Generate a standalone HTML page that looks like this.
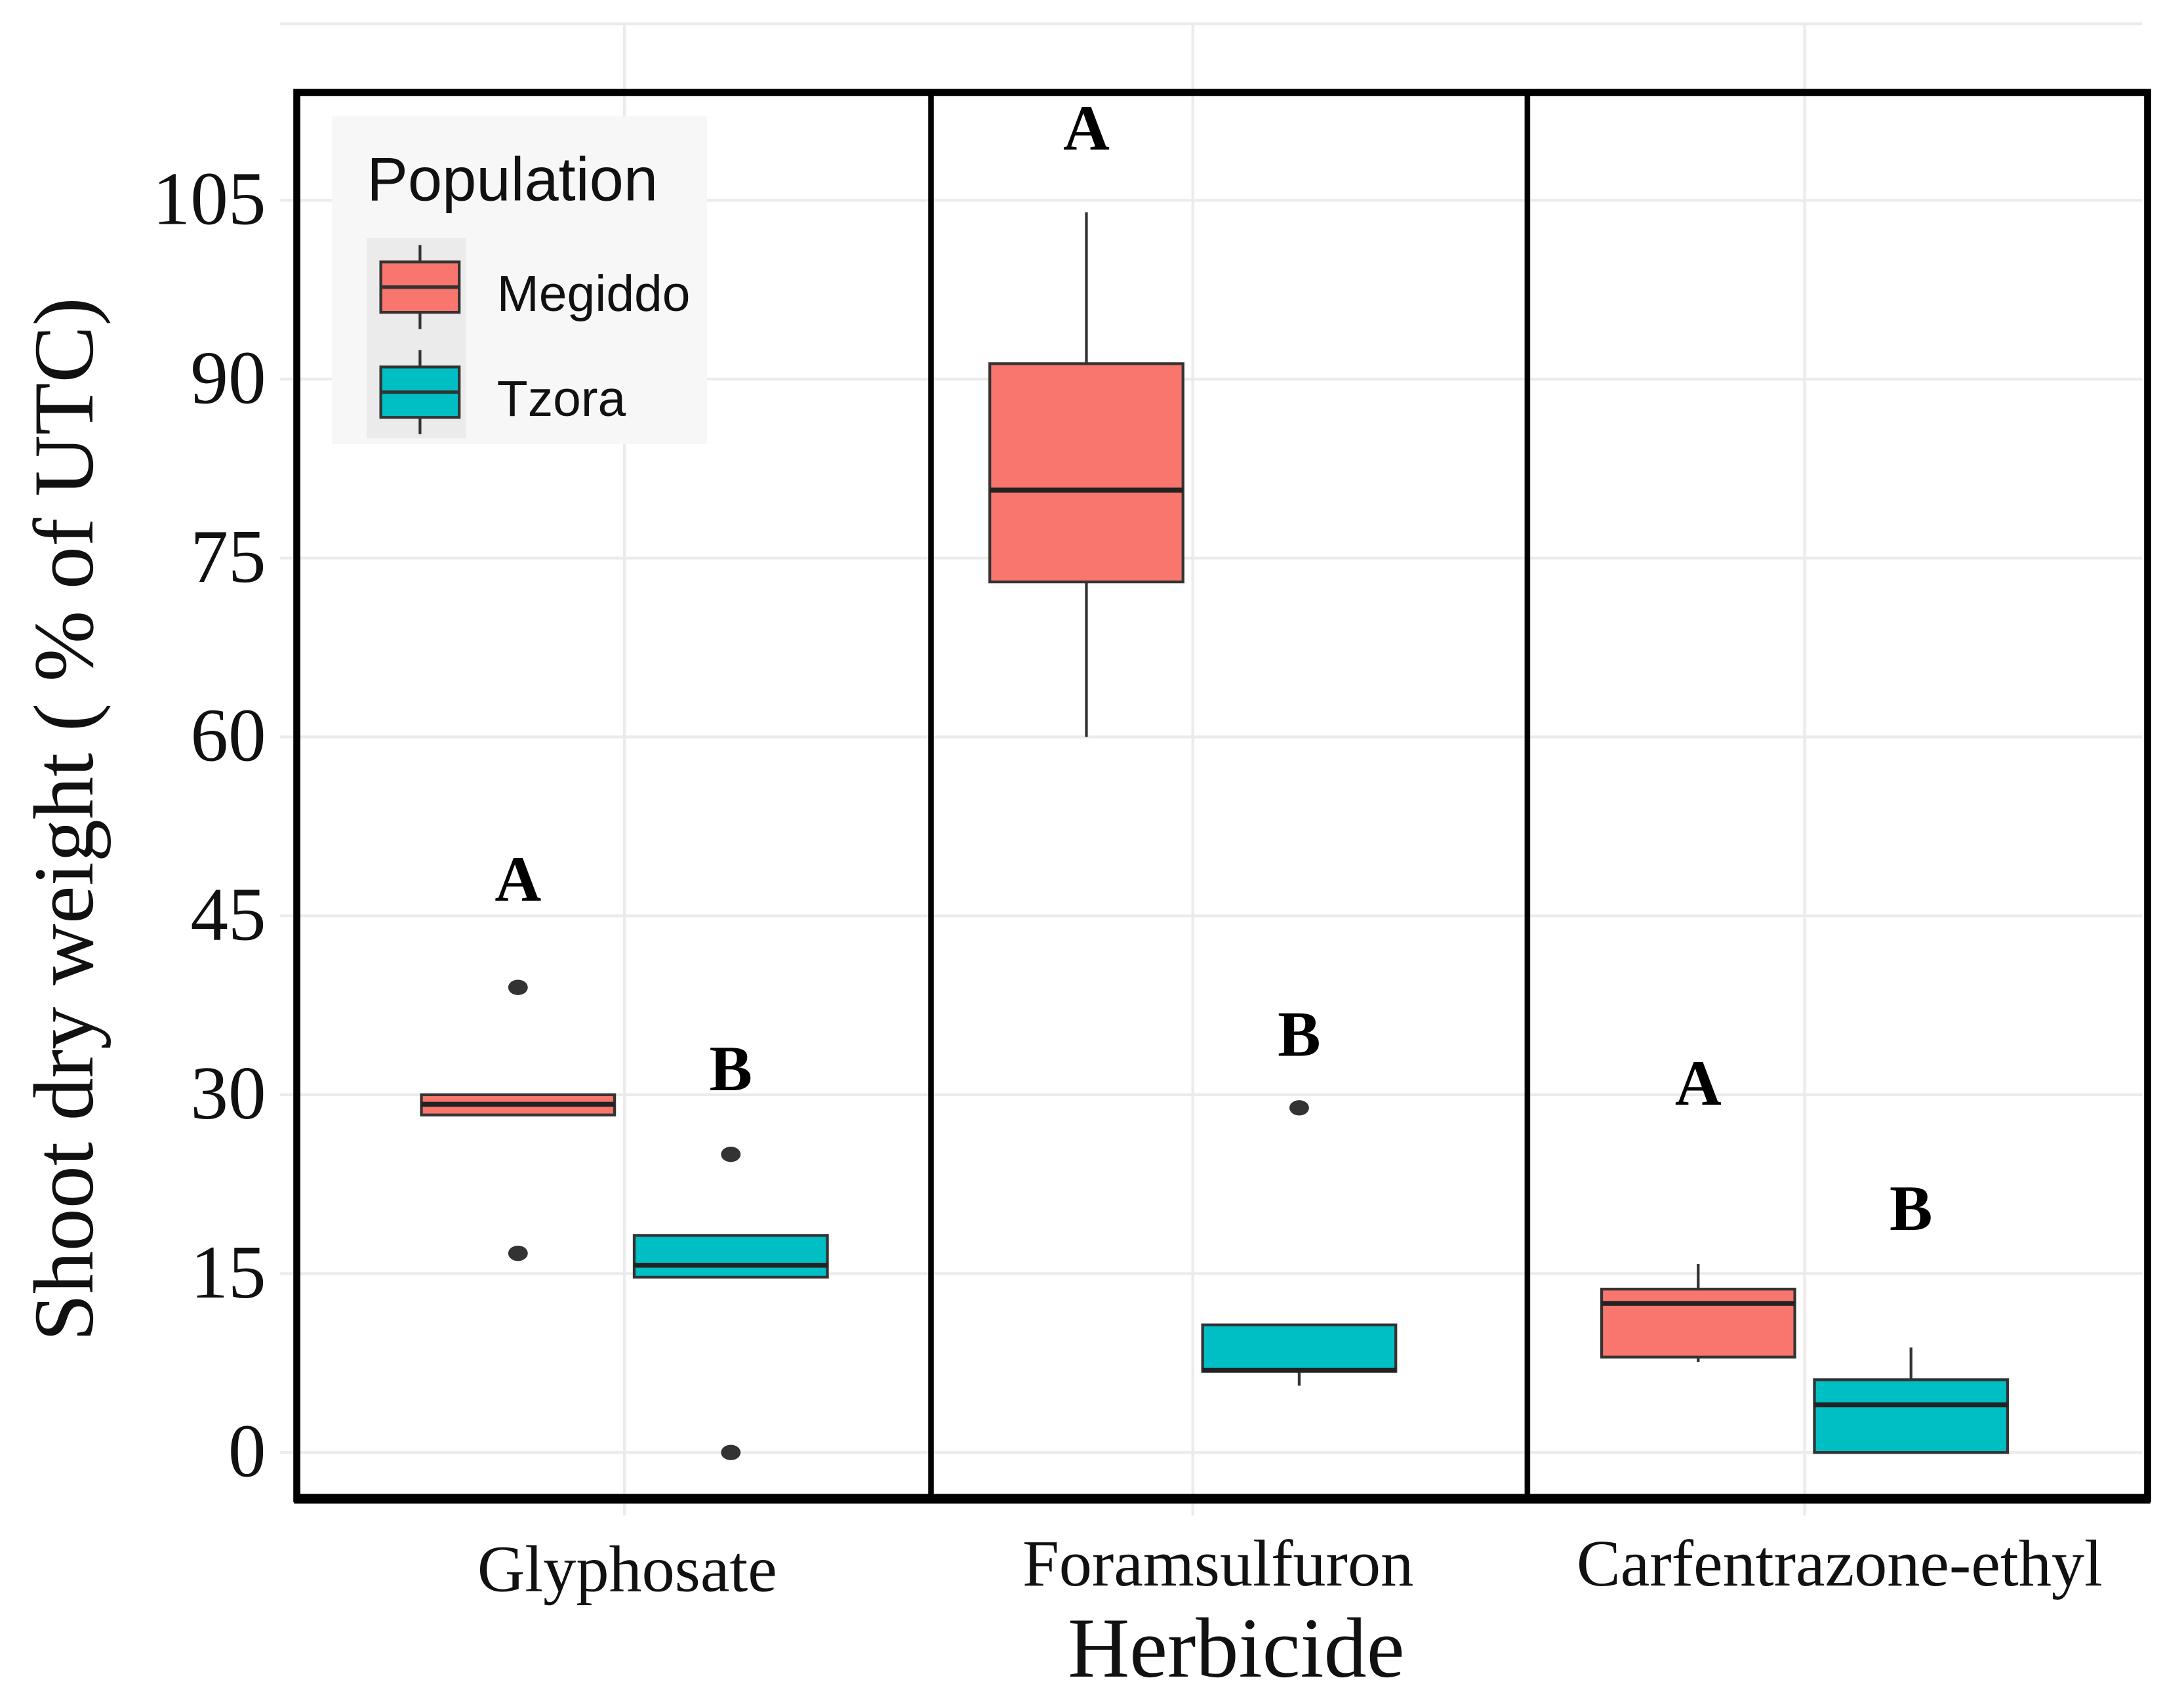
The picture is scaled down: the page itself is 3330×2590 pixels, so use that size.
<!DOCTYPE html>
<html><head><meta charset="utf-8"><style>html,body{margin:0;padding:0;background:#fff}svg{display:block}</style></head>
<body>
<svg id="chart" width="3330" height="2590" viewBox="0 0 1560 1213" preserveAspectRatio="none" xmlns="http://www.w3.org/2000/svg"></svg>
<script>
const categories = ["Glyphosate","Foramsulfuron","Carfentrazone-ethyl"];
const populations = ["Megiddo","Tzora"];
const colors = ["#F8766D","#00BFC4"];
// per category [Megiddo, Tzora]: lower whisker, q1, median, q3, upper whisker
const lowWhisker = [[28.3,14.7],[60,5.6],[7.6,0]];
const q1Values = [[28.3,14.7],[73,6.8],[8,0]];
const medianValues = [[29.2,15.7],[80.7,6.9],[12.5,4]];
const q3Values = [[30,18.2],[91.3,10.7],[13.7,6.1]];
const highWhisker = [[30,18.2],[104,10.7],[15.8,8.8]];
const outliers = [[[39,16.7],[25,0]],[[],[28.9]],[[],[]]];
const letters = [["A","B"],["A","B"],["A","B"]];
const letterValues = [[46.5,30.6],[109.5,33.5],[29.4,18.9]];
const yTicks = [0,15,30,45,60,75,90,105];

const svg = document.getElementById('chart');
const NS = 'http://www.w3.org/2000/svg';
function el(tag, attrs, parent){const e=document.createElementNS(NS,tag);for(const k in attrs)e.setAttribute(k,attrs[k]);(parent||svg).appendChild(e);return e;}
const y = v => 1037 - v*(1037-143)/105;
const catCenters = [446,852,1289];
const x = (ci,pi) => catCenters[ci] + (pi===0?-76:76);
const halfW = 69;

el('line',{x1:200,x2:1530,y1:17,y2:17,stroke:'#ebebeb','stroke-width':2});
yTicks.forEach(t=>{
  const g=el('line',{x1:200,x2:1530,y1:y(t),y2:y(t),stroke:'#ebebeb','stroke-width':2});
  
  
  const tx=el('text',{x:190,y:y(t)+17,'text-anchor':'end','font-family':'Liberation Serif, serif','font-size':54,fill:'#111'});
  tx.textContent=t;
  
  
});
catCenters.forEach(c=>{
  const g=el('line',{x1:c,x2:c,y1:17,y2:1082,stroke:'#ebebeb','stroke-width':2});
  
  
});

categories.forEach((cat,ci)=>{
  populations.forEach((p,pi)=>{
    const cx=x(ci,pi);
    const g=el('g',{});
    
    
    el('line',{x1:cx,x2:cx,y1:y(highWhisker[ci][pi]),y2:y(lowWhisker[ci][pi]),stroke:'#333','stroke-width':2},g);
    el('rect',{x:cx-halfW,y:y(q3Values[ci][pi]),width:halfW*2,height:Math.max(1,y(q1Values[ci][pi])-y(q3Values[ci][pi])),fill:colors[pi],stroke:'#333','stroke-width':2},g);
    el('line',{x1:cx-halfW,x2:cx+halfW,y1:y(medianValues[ci][pi]),y2:y(medianValues[ci][pi]),stroke:'#222','stroke-width':3.5},g);
    outliers[ci][pi].forEach(v=>{
      const d=el('ellipse',{cx:cx,cy:y(v),rx:7,ry:5.5,fill:'#333'},g);
      
      
    });
    const t=el('text',{x:cx,y:y(letterValues[ci][pi])+2,'text-anchor':'middle','font-family':'Liberation Serif, serif','font-weight':'bold','font-size':46,fill:'#000'});
    t.textContent=letters[ci][pi];
    
    
  });
});

const fr=el('rect',{x:212,y:66,width:1322,height:1004,fill:'none',stroke:'#000','stroke-width':5});


[665,1091].forEach(px=>{
  const l=el('line',{x1:px,x2:px,y1:66,y2:1070,stroke:'#000','stroke-width':4});
  
  
});
el('line',{x1:210,x2:1536,y1:1070,y2:1070,stroke:'#000','stroke-width':7});

const xLabelY=[1122,1118,1118];
const xLabelX=[448,870,1314];
categories.forEach((c,i)=>{
  const t=el('text',{x:xLabelX[i],y:xLabelY[i]+14,'text-anchor':'middle','font-family':'Liberation Serif, serif','font-size':47,fill:'#111'});
  t.textContent=c;
  
  
});
const xt=el('text',{x:883,y:1197,'text-anchor':'middle','font-family':'Liberation Serif, serif','font-size':61,fill:'#111'});
xt.textContent='Herbicide';


const yt=el('text',{x:0,y:0,'text-anchor':'middle','font-family':'Liberation Serif, serif','font-size':61,fill:'#111',transform:'translate(66,585) rotate(-90)'});
yt.textContent='Shoot dry weight ( % of UTC)';



const lg=el('g',{});


el('rect',{x:237,y:83,width:268,height:234,fill:'#f7f7f7'},lg);
const lt=el('text',{x:262,y:143,'font-family':'Liberation Sans, sans-serif','font-size':44,fill:'#111'},lg);
lt.textContent='Population';


el('rect',{x:262,y:170,width:71,height:143,fill:'#ebebeb'},lg);
populations.forEach((p,i)=>{
  const top=187+i*75;
  const e=el('g',{},lg);
  
  
  el('line',{x1:300,x2:300,y1:top-12,y2:top+48,stroke:'#333','stroke-width':2},e);
  el('rect',{x:272,y:top,width:56,height:36,fill:colors[i],stroke:'#333','stroke-width':2},e);
  el('line',{x1:272,x2:328,y1:top+18,y2:top+18,stroke:'#333','stroke-width':2.5},e);
  const t=el('text',{x:355,y:top+35,'font-family':'Liberation Sans, sans-serif','font-size':36,fill:'#111'},e);
  t.textContent=p;
});
</script>
</body></html>
